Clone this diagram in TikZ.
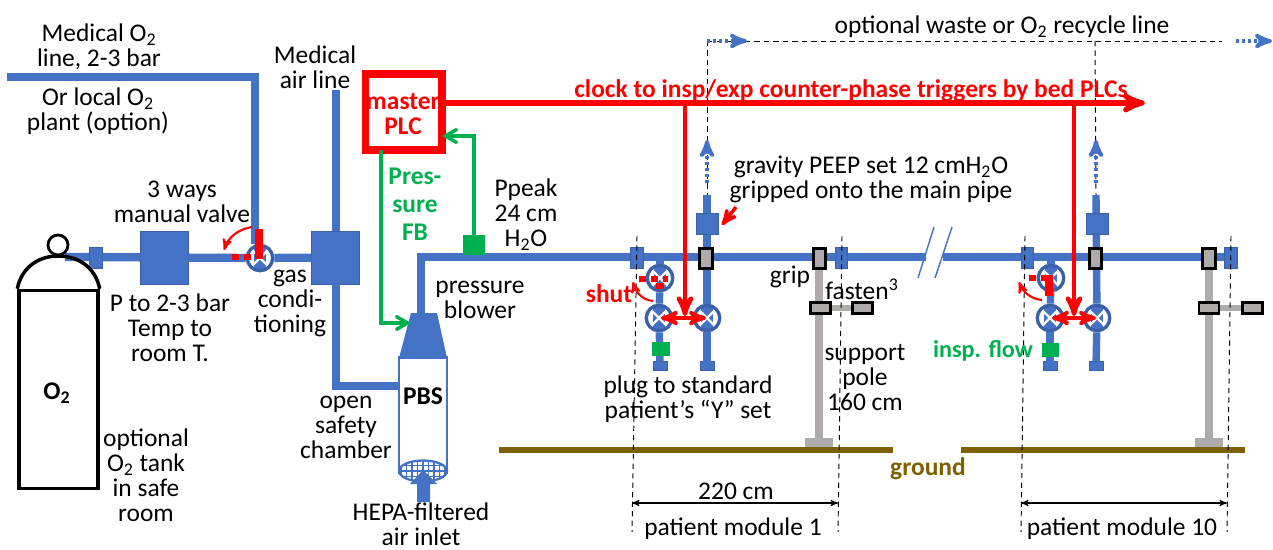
\documentclass[tikz,border=0pt]{standalone}
\usepackage{fontspec}
\setmainfont{Carlito}
\usetikzlibrary{arrows,shapes.geometric}
\definecolor{pipeblue}{HTML}{4472C4}
\definecolor{polegrey}{HTML}{AFABAB}
\definecolor{groundbrown}{HTML}{7F6000}
\definecolor{sensegreen}{HTML}{00B050}
\newcommand{\labelsize}{\fontsize{14.5}{14.2}\selectfont}
\tikzset{
  label/.style = {align=center, inner sep=0pt, yshift=-0.03cm, font=\labelsize},
  redlabel/.style = {label, red, font=\labelsize\bfseries},
  greenlabel/.style = {label, sensegreen, font=\labelsize\bfseries},
  pipe/.style = {draw=pipeblue, line width=4.7pt, miter limit=4},
  branch/.style = {draw=pipeblue, line width=4.2pt},
  bluebox/.style = {rectangle, fill=pipeblue, draw=pipeblue!85!black, line width=0.3pt,
    inner sep=0pt, outer sep=0pt},
  gasbox/.style = {bluebox, minimum width=0.96cm, minimum height=1.06cm},
  peepbox/.style = {bluebox, minimum width=0.44cm, minimum height=0.42cm},
  joint/.style = {bluebox, minimum width=0.25cm, minimum height=0.42cm},
  plug/.style = {bluebox, minimum width=0.28cm, minimum height=0.18cm},
  greysq/.style = {rectangle, fill=polegrey, draw=black, line width=1.6pt, inner sep=0pt, outer sep=0pt},
  grip/.style = {greysq, minimum width=0.25cm, minimum height=0.4cm},% on the main pipe
  fasten/.style = {greysq, minimum width=0.4cm, minimum height=0.22cm},
  sensor/.style = {rectangle, fill=sensegreen, inner sep=0pt, outer sep=0pt},
  valve/.style = {circle, draw=pipeblue!85!black, line width=1.9pt, fill=white, inner sep=0pt,
    minimum size=0.51cm, path picture={
      \fill[pipeblue] (path picture bounding box.center) ++(-0.12cm,-0.3cm) rectangle ++(0.24cm,0.6cm);
      \draw[white, line width=1.3pt] (path picture bounding box.south west)
        -- (path picture bounding box.north east);
      \draw[white, line width=1.3pt] (path picture bounding box.north west)
        -- (path picture bounding box.south east);
    }},
  hepa/.style = {ellipse, draw=pipeblue, line width=1.3pt, fill=white, inner sep=0pt,
    minimum width=0.96cm, minimum height=0.42cm, path picture={
      \draw[pipeblue, line width=0.6pt, step=0.11cm] (path picture bounding box.south west)
        grid (path picture bounding box.north east);
    }},
  pole/.style = {draw=polegrey, line width=5pt},
  arm/.style = {draw=polegrey, line width=3pt},
  foot/.style = {rectangle, fill=polegrey, inner sep=0pt, outer sep=0pt,
    minimum width=0.56cm, minimum height=0.18cm},
  ground/.style = {draw=groundbrown, line width=3.4pt},
  redline/.style = {draw=red, line width=2.6pt},
  greenline/.style = {draw=sensegreen, line width=2pt},
  shutbar/.style = {draw=red, line width=4.2pt},
  shutdash/.style = {draw=red, line width=3.4pt, dash pattern=on 0.14cm off 0.1cm},
  turn/.style = {draw=red, line width=1.2pt},
  waste/.style = {draw=black, line width=0.55pt, dash pattern=on 3pt off 2.4pt},
  dotted pipe/.style = {draw=pipeblue, line width=2.2pt, dash pattern=on 1.7pt off 1.7pt},
  span/.style = {draw=black, line width=0.6pt}
}
\begin{document}
\begin{tikzpicture}[x=0.02cm,y=-0.02cm,>=stealth']
\useasboundingbox (0,0) rectangle (1273,550);

% anchor points of the gas lines
\coordinate (o2start) at (7,77);
\coordinate (o2corner) at (255,77);
\coordinate (airstart) at (336,90);
\coordinate (neckpipe) at (65,257);
\coordinate (safetycorner) at (336,386);
\coordinate (safetyend) at (399,386);
\coordinate (mainstart) at (421,257);
\coordinate (blowertop) at (421,314);
\coordinate (breakleft) at (926,257);
\coordinate (breakright) at (943,257);
\coordinate (mainend) at (1237,257);

% supply side
\node [gasbox] (regul) at (164.5,257.5) {};
\node [gasbox] (condit) at (335.5,257.5) {};
\node [valve] (valvein) at (260,258) {};
\draw [pipe] (o2start) -- (o2corner) -- (o2corner |- valvein.north);
\draw [pipe] (neckpipe) -- (regul);
\draw [pipe] (regul) -- (valvein);
\draw [pipe] (valvein) -- (condit);
\draw [pipe] (airstart) -- (condit.north -| airstart);
\draw [pipe] (condit.south -| airstart) -- (safetycorner) -- (safetyend);
\node [joint] (tankjoint) at (96,258) {};

% oxygen tank
\node [rectangle, draw=black, line width=2pt, minimum width=1.58cm, minimum height=3.96cm, inner sep=0pt]
  (tank) at (58.5,389.5) {};
\draw [black, line width=2pt] (tank.north west) .. controls (22,266) and (40,256) .. (58,256)
  .. controls (77,256) and (95,266) .. (tank.north east);
\node [circle, draw=black, line width=1.6pt, fill=white, minimum size=0.4cm, inner sep=0pt] (tankneck) at (58,245) {};

% blower and PBS
\node [rectangle, draw=pipeblue, line width=1.3pt, fill=white, minimum width=0.96cm, minimum height=2.3cm, inner sep=0pt]
  (pbs) at (423,415) {};
\node [hepa] (filter) at (423,471) {};
\fill [pipeblue] (411,313) coordinate (bltl) -- (437,313) coordinate (bltr) -- (447,358) coordinate (blbr)
  -- (399,358) coordinate (blbl) -- cycle;
\fill [pipeblue] (423,470) coordinate (inlettip) -- (437,484) -- (430,484) -- (430,502) coordinate (inletfoot)
  -- (417,502) -- (417,484) -- (410,484) -- cycle;

% main pipe with the break
\draw [pipe] (blowertop) -- (mainstart) -- (breakleft);
\draw [pipe] (breakright) -- (mainend);
\coordinate (slasha) at (934,227); \coordinate (slashb) at (918,278);
\coordinate (slashc) at (952,227); \coordinate (slashd) at (935,278);
\draw [pipeblue, line width=0.8pt] (slasha) -- (slashb);
\draw [pipeblue, line width=0.8pt] (slashc) -- (slashd);

% module 1
\coordinate (m1top) at (707,195);
\coordinate (m1stem) at (660,257);
\node [valve] (m1shut) at (660,278) {};
\node [valve] (m1insp) at (659,318) {};
\node [valve] (m1exp) at (707,318) {};
\node [plug] (m1plugl) at (660,366) {};
\node [plug] (m1plugr) at (707,366) {};
\draw [branch] (m1stem) -- (m1shut);
\draw [branch] (m1shut) -- (m1insp);
\draw [branch] (m1insp) -- (m1plugl);
\draw [branch] (m1top) -- (m1exp);
\draw [branch] (m1exp) -- (m1plugr);
\node [peepbox] (m1peep) at (707,223.5) {};
\node [sensor, minimum width=0.36cm, minimum height=0.28cm] (m1sense) at (661,349) {};
\node [joint] (m1jointl) at (637,257.5) {};
\node [joint] (m1jointr) at (841,257.5) {};
\node [foot] (m1foot) at (819,442.5) {};
\draw [pole] (819,260) coordinate (m1poletop) -- (m1foot.north);
\draw [arm] (820,308) coordinate (m1arml) -- (862,308) coordinate (m1armr);
\node [grip] (m1gripa) at (706,258.5) {};
\node [grip] (m1gripb) at (819.5,258.5) {};
\node [fasten] (m1fasta) at (820.5,308) {};
\node [fasten] (m1fastb) at (862.5,308) {};

% module 10
\coordinate (m2top) at (1096,195);
\coordinate (m2stem) at (1051,257);
\node [valve] (m2shut) at (1051,278) {};
\node [valve] (m2insp) at (1050,318) {};
\node [valve] (m2exp) at (1097,318) {};
\node [plug] (m2plugl) at (1050,366) {};
\node [plug] (m2plugr) at (1096,366) {};
\draw [branch] (m2stem) -- (m2shut);
\draw [branch] (m2shut) -- (m2insp);
\draw [branch] (m2insp) -- (m2plugl);
\draw [branch] (m2top) -- (m2exp);
\draw [branch] (m2exp) -- (m2plugr);
\node [peepbox] (m2peep) at (1097,223.5) {};
\node [sensor, minimum width=0.34cm, minimum height=0.28cm] (m2sense) at (1050,350) {};
\node [joint] (m2jointl) at (1027,257.5) {};
\node [joint] (m2jointr) at (1230.5,257.5) {};
\node [foot] (m2foot) at (1209,442.5) {};
\draw [pole] (1209,260) coordinate (m2poletop) -- (m2foot.north);
\draw [arm] (1209,308) coordinate (m2arml) -- (1252,308) coordinate (m2armr);
\node [grip] (m2gripa) at (1095.5,258.5) {};
\node [grip] (m2gripb) at (1209,258.5) {};
\node [fasten] (m2fasta) at (1209,308) {};
\node [fasten] (m2fastb) at (1252.5,308) {};

% ground
\coordinate (grounda) at (499,450); \coordinate (groundb) at (893,450);
\coordinate (groundc) at (961,450); \coordinate (groundd) at (1245,450);
\draw [ground] (grounda) -- (groundb);
\draw [ground] (groundc) -- (groundd);

% waste line
\coordinate (wastea) at (707,41); \coordinate (wasteb) at (1095,41); \coordinate (wastec) at (1222,41);
\draw [waste] (wastea) -- (wastec);
\draw [waste] (wastea) -- (m1top);
\draw [waste] (wasteb) -- (m2top);
\draw [dotted pipe, ->] (wastea) -- (747,41) coordinate (wastetipa);
\coordinate (wastebeg) at (1236,41); \coordinate (wastetipb) at (1272,41);
\draw [dotted pipe, ->] (wastebeg) -- (wastetipb);
\draw [dotted pipe, ->] (m1top |- 0,183) coordinate (m1up) -- (707,140) coordinate (m1uptip);
\draw [dotted pipe, ->] (m2top |- 0,183) coordinate (m2up) -- (1096,140) coordinate (m2uptip);

% module limits
\coordinate (lima) at (637,236); \coordinate (limb) at (632,532);
\coordinate (limc) at (842,236); \coordinate (limd) at (838,532);
\coordinate (lime) at (1025,236); \coordinate (limf) at (1021,532);
\coordinate (limg) at (1231,236); \coordinate (limh) at (1227,532);
\draw [waste] (lima) -- (limb);
\draw [waste] (limc) -- (limd);
\draw [waste] (lime) -- (limf);
\draw [waste] (limg) -- (limh);
\draw [span, <->] (632,503) coordinate (spana) -- (838,503) coordinate (spanb);
\draw [span, <->] (1021,503) coordinate (spanc) -- (1227,503) coordinate (spand);

% control lines
\node [rectangle, draw=red, line width=4pt, minimum width=1.54cm, minimum height=1.52cm, inner sep=0pt, outer sep=0pt]
  (plc) at (403.5,112) {};
\coordinate (clockend) at (1145,103);
\draw [redline, line width=3pt, ->] (plc.east |- clockend) -- (clockend);
\draw [redline, ->] (685,103) coordinate (m1drop) -- (685,316) coordinate (m1droptip);
\draw [redline, ->] (1074,103) coordinate (m2drop) -- (1074,316) coordinate (m2droptip);
\draw [redline, line width=2.2pt, <->] (m1insp.center) ++(2,0) coordinate (m1left) -- (706,318) coordinate (m1right);
\draw [redline, line width=2.2pt, <->] (m2insp.center) ++(2,0) coordinate (m2left) -- (1096,318) coordinate (m2right);

\node [sensor, minimum width=0.44cm, minimum height=0.4cm] (fbtap) at (474,245) {};
\coordinate (fbcorner) at (474,136);
\coordinate (fbdown) at (381,323);
\draw [greenline, ->, >=angle 60] (fbtap) -- (fbcorner) -- (plc.east |- fbcorner);
\draw [greenline, ->, >=angle 60] (plc.south -| fbdown) -- (fbdown) -- (411,323) coordinate (fbtip);

% shut markers
\draw [shutbar] (259,229) coordinate (barin) -- (259,259) coordinate (barout);
\draw [shutdash] (232,257) coordinate (dashin) -- (256,257) coordinate (dashout);
\draw [turn, ->] (252,227) coordinate (turna) .. controls (238,229) and (228,238) .. (224,250) coordinate (turnb);
\draw [shutdash] (639,279) coordinate (m1dasha) -- (668,279) coordinate (m1dashb);
\draw [shutbar] (660,283) coordinate (m1bara) -- (660,289) coordinate (m1barb);
\draw [turn, ->] (653,301) coordinate (m1turna) .. controls (643,300) and (636,293) .. (633,282) coordinate (m1turnb);
\draw [shutbar] (1049,275) coordinate (m2bara) -- (1049,296) coordinate (m2barb);
\draw [shutdash] (1029,278) coordinate (m2dasha) -- (1053,278) coordinate (m2dashb);
\draw [turn, ->] (1042,300) coordinate (m2turna) .. controls (1031,299) and (1023,292) .. (1019,282) coordinate (m2turnb);
\draw [redline, line width=2pt, ->] (736,207) coordinate (peeppoint) -- (722,225) coordinate (peeptip);

% text
\node [label] (o2line) at (99,45) {Medical O\textsubscript{2}\\line, 2-3 bar};
\node [label] (o2plant) at (98,110) {Or local O\textsubscript{2}\\plant (option)};
\node [label] (airline) at (315,66) {Medical\\air line};
\node [label] (valvetxt) at (182,200) {3 ways\\manual valve};
\node [label] (regultxt) at (170,326) {P to 2-3 bar\\Temp to\\room T.};
\node [label] (condittxt) at (290,302) {gas\\condi-\\tioning};
\node [label, font=\labelsize\bfseries] (o2tank) at (57,392) {O\textsubscript{2}};
\node [label] (tanktxt) at (146,474) {optional\\O\textsubscript{2} tank\\in safe\\room};
\node [label] (chambertxt) at (346,426) {open\\safety\\chamber};
\node [label, font=\labelsize\bfseries] (pbstxt) at (423,395) {PBS};
\node [label] (hepatxt) at (421,523) {HEPA-filtered\\air inlet};
\node [label] (peaktxt) at (526,213) {Ppeak\\24 cm\\H\textsubscript{2}O};
\node [label] (blowertxt) at (480,298) {pressure\\blower};
\node [redlabel] (plctxt) at (403,113) {master\\PLC};
\node [greenlabel, font=\fontsize{14.5}{16}\selectfont\bfseries] (fbtxt) at (415,203) {Pres-\\sure\\FB};
\node [redlabel] (clocktxt) at (851,89) {clock to insp/exp counter-phase triggers by bed PLCs};
\node [label] (wastetxt) at (1002,25) {optional waste or O\textsubscript{2} recycle line};
\node [label] (peeptxt) at (871,178) {gravity PEEP set 12 cmH\textsubscript{2}O\\gripped onto the main pipe};
\node [redlabel] (shuttxt) at (609,292) {shut};
\node [label] (griptxt) at (790,275) {grip};
\node [label] (fastentxt) at (862,288) {fasten\textsuperscript{3}};
\node [label] (poletxt) at (865,376) {support\\pole\\160 cm};
\node [label] (plugtxt) at (688,398) {plug to standard\\patient’s “Y” set};
\node [greenlabel, font=\fontsize{13.8}{14.2}\selectfont\bfseries] (flowtxt) at (983,349) {insp. flow};
\node [label, groundbrown, font=\labelsize\bfseries] (groundtxt) at (928,467) {ground};
\node [label] (spantxt) at (736,490) {220 cm};
\node [label] (mod1txt) at (733,527) {patient module 1};
\node [label] (mod2txt) at (1122,527) {patient module 10};
\end{tikzpicture}
\end{document}
